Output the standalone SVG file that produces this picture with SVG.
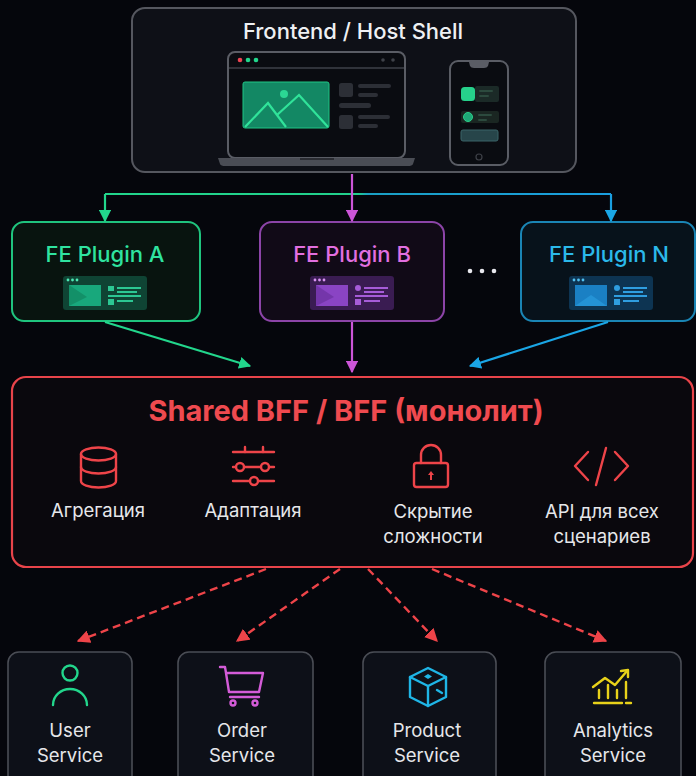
<svg xmlns="http://www.w3.org/2000/svg" width="696" height="776" viewBox="0 0 696 776">
  <defs>
    <style>
      .t { font-family: Inter, "Noto Sans", "DejaVu Sans", sans-serif; }
      .title { font-size: 22px; font-weight: 500; fill: #eef0f3; }
      .plug { font-size: 22px; font-weight: 500; }
      .lbl { font-size: 18.5px; fill: #e6e7ea; }
      .svc { font-size: 18.5px; fill: #e6e7ea; }
      .ic { fill: none; stroke-width: 2.4; stroke-linecap: round; stroke-linejoin: round; }
      .red { stroke: #ee4449; }
      .svcbox { fill: #0d1018; stroke: #4a4d55; stroke-width: 1.6; }
      .dash { fill: none; stroke: #ee4449; stroke-width: 2.4; stroke-dasharray: 8 5; }
    </style>
    <linearGradient id="busGrad" x1="105" y1="0" x2="611" y2="0" gradientUnits="userSpaceOnUse">
      <stop offset="0" stop-color="#22d68c"/>
      <stop offset="0.5" stop-color="#22d08c"/>
      <stop offset="0.52" stop-color="#1a9fc4"/>
      <stop offset="1" stop-color="#1a9ee0"/>
    </linearGradient>
    <marker id="mGreen" viewBox="0 0 10 10" refX="9" refY="5" markerWidth="5.5" markerHeight="5.5" orient="auto" markerUnits="strokeWidth">
      <path d="M0,0 L10,5 L0,10 Z" fill="#22d68c"/>
    </marker>
    <marker id="mMag" viewBox="0 0 10 10" refX="9" refY="5" markerWidth="5.5" markerHeight="5.5" orient="auto" markerUnits="strokeWidth">
      <path d="M0,0 L10,5 L0,10 Z" fill="#cc55d8"/>
    </marker>
    <marker id="mBlue" viewBox="0 0 10 10" refX="9" refY="5" markerWidth="5.5" markerHeight="5.5" orient="auto" markerUnits="strokeWidth">
      <path d="M0,0 L10,5 L0,10 Z" fill="#1aa6e6"/>
    </marker>
    <marker id="mRed" viewBox="0 0 10 10" refX="9" refY="5" markerWidth="5.5" markerHeight="5.5" orient="auto" markerUnits="strokeWidth">
      <path d="M0,0 L10,5 L0,10 Z" fill="#ee4449"/>
    </marker>
  </defs>

  <rect width="696" height="776" fill="#05060c"/>

  <!-- host shell -->
  <g id="host">
    <rect x="132" y="8" width="444" height="164" rx="13" fill="#0e1017" stroke="#55575f" stroke-width="2"/>
    <text class="t title" x="353" y="39" text-anchor="middle">Frontend / Host Shell</text>
    <!-- laptop -->
    <rect x="228" y="52" width="177" height="106" rx="7" fill="#0a0c11" stroke="#5a5d65" stroke-width="2"/>
    <line x1="229" y1="68" x2="404" y2="68" stroke="#3e4148" stroke-width="1.5"/>
    <circle cx="240" cy="60" r="2.3" fill="#ee4452"/>
    <circle cx="248" cy="60" r="2.3" fill="#22d68c"/>
    <circle cx="256" cy="60" r="2.3" fill="#22d68c"/>
    <circle cx="383" cy="60" r="1.8" fill="#3f4249"/>
    <circle cx="393" cy="60" r="1.8" fill="#3f4249"/>
    <rect x="243" y="82" width="86" height="46" rx="2" fill="#138864" stroke="#1fc585" stroke-width="1"/>
    <polyline points="245,127 268,103 286,127" fill="none" stroke="#30e39a" stroke-width="2.2"/>
    <polyline points="277,115 299,95 328,127" fill="none" stroke="#30e39a" stroke-width="2.2"/>
    <circle cx="284" cy="94" r="4" fill="#2bd894"/>
    <rect x="339" y="83" width="14" height="14" rx="2.5" fill="#2c2f36"/>
    <rect x="358" y="84" width="33" height="4" rx="2" fill="#2c2f36"/>
    <rect x="358" y="93" width="20" height="4" rx="2" fill="#2c2f36"/>
    <rect x="339" y="103" width="32" height="5" rx="2.5" fill="#2c2f36"/>
    <rect x="339" y="115" width="14" height="14" rx="2.5" fill="#2c2f36"/>
    <rect x="358" y="115" width="32" height="4" rx="2" fill="#2c2f36"/>
    <rect x="358" y="124" width="20" height="4" rx="2" fill="#2c2f36"/>
    <path d="M218,158 L415,158 L413,164 Q412,166 408,166 L225,166 Q221,166 220,164 Z" fill="#4a4d55"/>
    <rect x="300" y="158" width="34" height="2" fill="#2a2c32"/>
    <!-- phone -->
    <rect x="450" y="61" width="58" height="104" rx="8" fill="#0a0c11" stroke="#5a5d65" stroke-width="2"/>
    <path d="M469,62 L470,66 Q471,68 474,68 L484,68 Q487,68 488,66 L489,62 Z" fill="#5a5d65"/>
    <rect x="461" y="87" width="14" height="14" rx="3.5" fill="#26d18b"/>
    <rect x="475" y="86" width="24" height="16" rx="2" fill="#1b2a27"/>
    <rect x="479" y="90" width="14" height="2" rx="1" fill="#2c4a3e"/>
    <rect x="479" y="95" width="10" height="2" rx="1" fill="#2c4a3e"/>
    <rect x="461" y="111" width="38" height="12" rx="2" fill="#1a2622"/>
    <circle cx="468" cy="117" r="4.5" fill="#1ea877" stroke="#2bd08a" stroke-width="1"/>
    <rect x="478" y="114" width="14" height="2" rx="1" fill="#2c4a3e"/>
    <rect x="478" y="119" width="9" height="2" rx="1" fill="#2c4a3e"/>
    <rect x="461" y="130" width="37" height="11" rx="2" fill="#27454a" stroke="#3b6468" stroke-width="1"/>
    <circle cx="479" cy="157" r="3" fill="none" stroke="#3e4148" stroke-width="1.2"/>
  </g>

  <!-- plugins -->
  <g id="pluginA">
    <rect x="12" y="222" width="188" height="99" rx="12" fill="#08140f" stroke="#1fc47e" stroke-width="2"/>
    <text class="t plug" x="105" y="262" text-anchor="middle" fill="#2fe3a0">FE Plugin A</text>
    <g transform="translate(63,276)">
      <rect width="84" height="34" rx="3" fill="#0f4434"/>
      <circle cx="5" cy="4" r="1.4" fill="#4de8b4"/><circle cx="9.5" cy="4" r="1.4" fill="#4de8b4"/><circle cx="14" cy="4" r="1.4" fill="#4de8b4"/>
      <rect x="6" y="9" width="32" height="21" fill="#18a87c"/>
      <polygon points="6,9 24,21 6,30" fill="#139068"/>
      <rect x="45" y="10" width="6" height="5" fill="#2cc793"/>
      <rect x="54" y="11" width="24" height="2" fill="#2cc793"/>
      <rect x="54" y="15" width="20" height="2" fill="#2cc793"/>
      <rect x="45" y="19" width="33" height="2" fill="#2cc793"/>
      <rect x="45" y="23" width="6" height="6" fill="#2cc793"/>
      <rect x="54" y="24" width="16" height="2" fill="#2cc793"/>
    </g>
  </g>
  <g id="pluginB">
    <rect x="260" y="222" width="184" height="99" rx="12" fill="#110a17" stroke="#8c44a8" stroke-width="2"/>
    <text class="t plug" x="352" y="262" text-anchor="middle" fill="#e26fe0">FE Plugin B</text>
    <g transform="translate(310,276)">
      <rect width="84" height="34" rx="3" fill="#3a1c52"/>
      <circle cx="5" cy="4" r="1.4" fill="#d892f2"/><circle cx="9.5" cy="4" r="1.4" fill="#d892f2"/><circle cx="14" cy="4" r="1.4" fill="#d892f2"/>
      <rect x="6" y="9" width="32" height="21" fill="#8a44c4"/>
      <polygon points="6,9 24,21 6,30" fill="#7436aa"/>
      <circle cx="48" cy="12" r="3" fill="#a65cd8"/>
      <rect x="54" y="11" width="24" height="2" fill="#a65cd8"/>
      <rect x="54" y="15" width="20" height="2" fill="#a65cd8"/>
      <rect x="45" y="19" width="33" height="2" fill="#a65cd8"/>
      <rect x="45" y="23" width="6" height="6" fill="#a65cd8"/>
      <rect x="54" y="24" width="16" height="2" fill="#a65cd8"/>
    </g>
  </g>
  <g id="ellipsis">
    <circle cx="470" cy="271" r="2.3" fill="#e8e8ee"/>
    <circle cx="482" cy="271" r="2.3" fill="#e8e8ee"/>
    <circle cx="494" cy="271" r="2.3" fill="#e8e8ee"/>
  </g>
  <g id="pluginN">
    <rect x="521" y="222" width="174" height="99" rx="12" fill="#07121b" stroke="#1a85b5" stroke-width="2"/>
    <text class="t plug" x="609" y="262" text-anchor="middle" fill="#2bb9ea">FE Plugin N</text>
    <g transform="translate(569,276)">
      <rect width="84" height="34" rx="3" fill="#0d3452"/>
      <circle cx="5" cy="4" r="1.4" fill="#52c0f0"/><circle cx="9.5" cy="4" r="1.4" fill="#52c0f0"/><circle cx="14" cy="4" r="1.4" fill="#52c0f0"/>
      <rect x="6" y="9" width="32" height="21" fill="#1a80c4"/>
      <polygon points="6,30 22,19 38,30" fill="#2493d6"/>
      <circle cx="48" cy="12" r="3" fill="#2f9ee0"/>
      <rect x="54" y="11" width="24" height="2" fill="#2f9ee0"/>
      <rect x="54" y="15" width="20" height="2" fill="#2f9ee0"/>
      <rect x="45" y="19" width="33" height="2" fill="#2f9ee0"/>
      <rect x="45" y="23" width="6" height="6" fill="#2f9ee0"/>
      <rect x="54" y="24" width="16" height="2" fill="#2f9ee0"/>
    </g>
  </g>

  <!-- shared BFF -->
  <g id="bff">
    <rect x="12" y="377" width="681" height="190" rx="14" fill="#0a080d" stroke="#e8444a" stroke-width="2.2"/>
    <text class="t" x="346" y="421" text-anchor="middle" font-size="29" font-weight="700" fill="#ef4a4f">Shared BFF / BFF (монолит)</text>
    <!-- database -->
    <g class="ic red">
      <ellipse cx="98.5" cy="454" rx="17.5" ry="6.5"/>
      <path d="M81,454 V481 A17.5,6.5 0 0 0 116,481 V454"/>
      <path d="M81,467 A17.5,6.5 0 0 0 116,467"/>
    </g>
    <text class="t lbl" x="98" y="517" text-anchor="middle">Агрегация</text>
    <!-- sliders -->
    <g class="ic red">
      <line x1="233" y1="452" x2="274" y2="452"/>
      <line x1="245" y1="447" x2="245" y2="452"/>
      <line x1="263" y1="447" x2="263" y2="452"/>
      <line x1="233" y1="467" x2="236" y2="467"/>
      <circle cx="240" cy="467" r="4"/>
      <line x1="244" y1="467" x2="261" y2="467"/>
      <circle cx="265" cy="467" r="4"/>
      <line x1="269" y1="467" x2="274" y2="467"/>
      <line x1="233" y1="481" x2="250" y2="481"/>
      <circle cx="254" cy="481" r="4"/>
      <line x1="258" y1="481" x2="274" y2="481"/>
    </g>
    <text class="t lbl" x="253" y="517" text-anchor="middle">Адаптация</text>
    <!-- lock -->
    <g class="ic red">
      <rect x="414" y="463" width="34" height="24" rx="2.5"/>
      <path d="M421,463 V455 A10,10 0 0 1 441,455 V463"/>
    </g>
    <path d="M431,471 L428,475 H430 V480 H432 V475 H434 Z" fill="#ee4449"/>
    <text class="t lbl" x="433" y="518" text-anchor="middle">Скрытие</text>
    <text class="t lbl" x="433" y="543" text-anchor="middle">сложности</text>
    <!-- code -->
    <g class="ic red">
      <polyline points="588,452 575,466 588,480"/>
      <line x1="606" y1="448" x2="596" y2="485"/>
      <polyline points="615,452 628,466 615,480"/>
    </g>
    <text class="t lbl" x="602" y="518" text-anchor="middle">API для всех</text>
    <text class="t lbl" x="602" y="543" text-anchor="middle">сценариев</text>
  </g>

  <!-- services -->
  <g id="userService">
    <rect class="svcbox" x="8" y="652" width="124" height="140" rx="11"/>
    <g class="ic" stroke="#22d68c">
      <circle cx="70" cy="673" r="7.5"/>
      <path d="M53,705 A17,16 0 0 1 87,705"/>
    </g>
    <text class="t svc" x="70" y="737" text-anchor="middle">User</text>
    <text class="t svc" x="70" y="762" text-anchor="middle">Service</text>
  </g>
  <g id="orderService">
    <rect class="svcbox" x="178" y="652" width="135" height="140" rx="11"/>
    <g class="ic" stroke="#d45cd8">
      <polyline points="220,667 225,667 226,673 263,673 259,692 229,692 226,673"/>
      <line x1="230" y1="697" x2="259" y2="697"/>
      <circle cx="233" cy="703" r="2.5"/>
      <circle cx="255" cy="703" r="2.5"/>
    </g>
    <text class="t svc" x="242" y="737" text-anchor="middle">Order</text>
    <text class="t svc" x="242" y="762" text-anchor="middle">Service</text>
  </g>
  <g id="productService">
    <rect class="svcbox" x="363" y="652" width="133" height="140" rx="11"/>
    <g class="ic" stroke="#1fb6e6">
      <polygon points="428,668 446,677 446,697 428,706 410,697 410,677"/>
      <polyline points="410,677 428,686 446,677"/>
      <line x1="428" y1="686" x2="428" y2="706"/>
      <line x1="437" y1="690" x2="442" y2="693"/>
    </g>
    <path d="M428,674 L432,676.5 L428,679 L424,676.5 Z" fill="#1fb6e6"/>
    <text class="t svc" x="427" y="737" text-anchor="middle">Product</text>
    <text class="t svc" x="427" y="762" text-anchor="middle">Service</text>
  </g>
  <g id="analyticsService">
    <rect class="svcbox" x="545" y="652" width="136" height="140" rx="11"/>
    <g class="ic" stroke="#e8d21a">
      <polyline points="593,687 605,678 615,685 627,671"/>
      <polyline points="621,671 628,670 628,677"/>
      <line x1="599" y1="690" x2="599" y2="698"/>
      <line x1="608" y1="685" x2="608" y2="698"/>
      <line x1="617" y1="690" x2="617" y2="698"/>
      <line x1="626" y1="682" x2="626" y2="698"/>
      <line x1="594" y1="703" x2="622" y2="703"/>
      <line x1="626" y1="703" x2="631" y2="703"/>
    </g>
    <text class="t svc" x="613" y="737" text-anchor="middle">Analytics</text>
    <text class="t svc" x="613" y="762" text-anchor="middle">Service</text>
  </g>

  <!-- connectors -->
  <g id="connectors" fill="none">
    <line x1="105" y1="194" x2="611" y2="194" stroke="url(#busGrad)" stroke-width="2.2"/>
    <line x1="105" y1="194" x2="105" y2="221" stroke="#22d68c" stroke-width="2.2" marker-end="url(#mGreen)"/>
    <line x1="611" y1="194" x2="611" y2="221" stroke="#1a9ee0" stroke-width="2.2" marker-end="url(#mBlue)"/>
    <line x1="352" y1="174" x2="352" y2="221" stroke="#cc55d8" stroke-width="2.2" marker-end="url(#mMag)"/>

    <line x1="105" y1="322" x2="250" y2="366" stroke="#22d68c" stroke-width="2.2" marker-end="url(#mGreen)"/>
    <line x1="352" y1="322" x2="352" y2="372" stroke="#cc55d8" stroke-width="2.2" marker-end="url(#mMag)"/>
    <line x1="608" y1="322" x2="470" y2="366" stroke="#1aa6e6" stroke-width="2.2" marker-end="url(#mBlue)"/>

    <line class="dash" x1="266" y1="569" x2="78" y2="641" marker-end="url(#mRed)"/>
    <line class="dash" x1="340" y1="569" x2="237" y2="641" marker-end="url(#mRed)"/>
    <line class="dash" x1="368" y1="569" x2="437" y2="641" marker-end="url(#mRed)"/>
    <line class="dash" x1="432" y1="569" x2="606" y2="641" marker-end="url(#mRed)"/>
  </g>
</svg>
